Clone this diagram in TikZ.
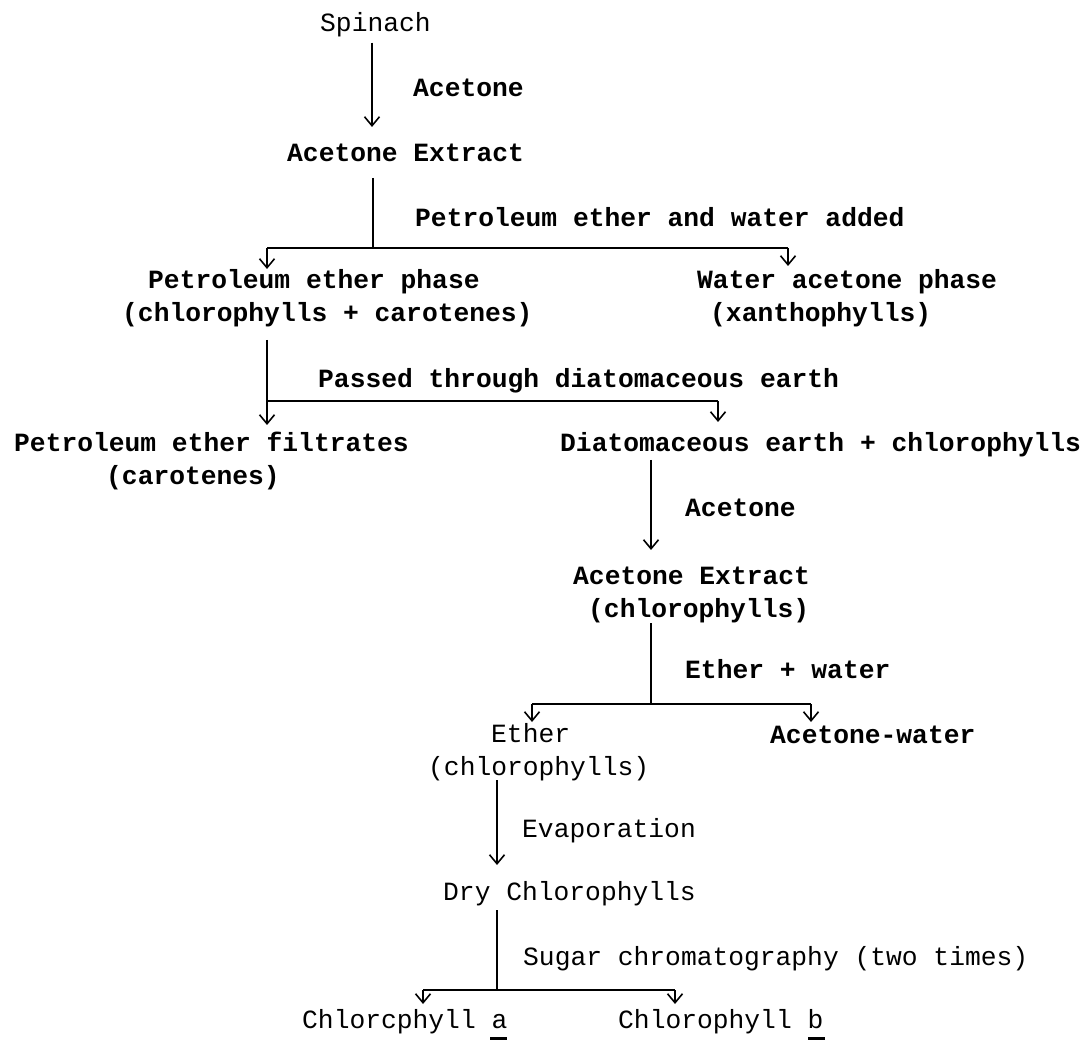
\documentclass[tikz,border=0pt]{standalone}
\usepackage{fontspec}
\setmainfont{Liberation Mono}
\usetikzlibrary{arrows.meta}
\begin{document}
\begin{tikzpicture}[x=1pt,y=-1pt,
  txt/.style={inner sep=0pt,anchor=base west,align=left,font=\fontsize{26.3}{33}\selectfont},
  btxt/.style={txt,font=\fontsize{26.3}{33}\selectfont\bfseries},
  ln/.style={line width=1.8pt},
  arr/.style={line width=1.8pt,-{Straight Barb[length=9pt,width=15pt,line width=1.6pt]}}]
\useasboundingbox (0,0) rectangle (1088,1040);
% nodes (y = baseline of the last line)
\node[txt]  (spinach) at (320,32) {Spinach};
\node[btxt] (ext1) at (287,162) {Acetone Extract};
\node[btxt] (pe) at (122,322) {\hspace*{26pt}Petroleum ether phase\\(chlorophylls + carotenes)};
\node[btxt] (wa) at (697,322) {Water acetone phase\\\hspace*{13pt}(xanthophylls)};
\node[btxt] (pef) at (14,485) {Petroleum ether filtrates\\\hspace*{92pt}(carotenes)};
\node[btxt] (dec) at (560,452) {Diatomaceous earth + chlorophylls};
\node[btxt] (ext2) at (573,617) {Acetone Extract\\\hspace*{15pt}(chlorophylls)};
\node[txt] (eth) at (428,775) {\hspace*{63pt}Ether\\(chlorophylls)};
\node[btxt] (aw) at (770,743) {Acetone-water};
\node[txt] (dry) at (443,900) {Dry Chlorophylls};
\node[txt] (ca) at (302,1028) {Chlorcphyll a};
\node[txt] (cb) at (618,1028) {Chlorophyll b};
% labels
\node[btxt] (l1) at (413,97) {Acetone};
\node[btxt] (l2) at (415,227) {Petroleum ether and water added};
\node[btxt] (l3) at (318,388) {Passed through diatomaceous earth};
\node[btxt] (l4) at (685,517) {Acetone};
\node[btxt] (l5) at (685,678) {Ether + water};
\node[txt]  (l6) at (522,837) {Evaporation};
\node[txt]  (l7) at (523,965) {Sugar chromatography (two times)};
% junctions
\coordinate (j1) at (373,248);
\coordinate (j2) at (267,401);
\coordinate (j3) at (651,704);
\coordinate (j4) at (497,990);
% connectors
\draw[arr] (spinach.south -| 372,0) ++(0,5) -- (372,127);
\draw[ln] (373,178) -- (j1);
\draw[ln] (267,248) -- (788,248);
\draw[arr] (267,248) -- (267,269);
\draw[arr] (788,248) -- (788,266);
\draw[ln] (267,340) -- (j2);
\draw[arr] (j2) -- (267,425);
\draw[ln] (j2) -- (718,401);
\draw[arr] (718,401) -- (718,422);
\draw[arr] (651,460) -- (651,550);
\draw[ln] (651,623) -- (j3);
\draw[ln] (532,704) -- (811,704);
\draw[arr] (532,704) -- (532,722);
\draw[arr] (811,704) -- (811,722);
\draw[arr] (497,780) -- (497,865);
\draw[ln] (497,910) -- (j4);
\draw[ln] (423,990) -- (675,990);
\draw[arr] (423,990) -- (423,1004);
\draw[arr] (675,990) -- (675,1004);
% underlines
\draw[line width=3pt] (490,1038) -- (507,1038);
\draw[line width=3pt] (808,1038) -- (825,1038);
\end{tikzpicture}
\end{document}
